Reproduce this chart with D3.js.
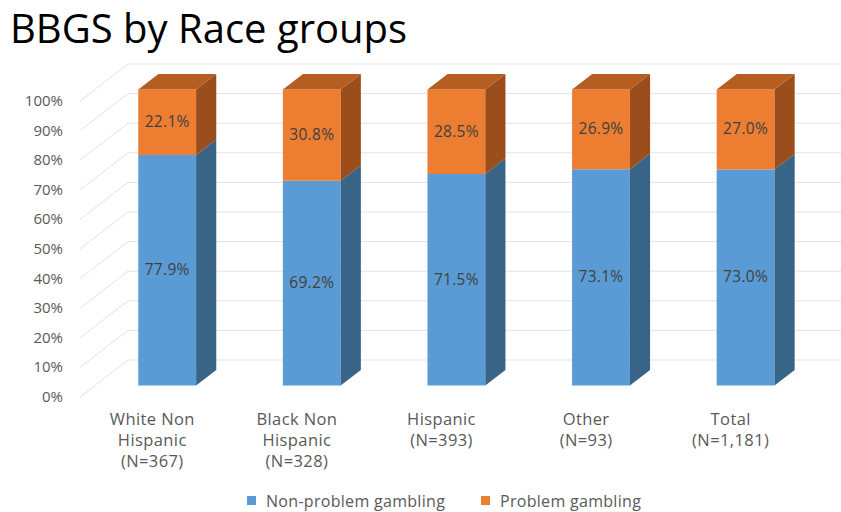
<!DOCTYPE html>
<html>
<head>
<meta charset="utf-8">
<script src="https://cdn.jsdelivr.net/npm/d3@7"></script>
<style>
  body { margin: 0; background: #fff; }
  svg { display: block; font-family: "Open Sans", sans-serif; }
</style>
</head>
<body>
<svg id="chart" width="841" height="512"></svg>
<script>
// data
var categories = [
  ["White Non", "Hispanic", "(N=367)"],
  ["Black Non", "Hispanic", "(N=328)"],
  ["Hispanic", "(N=393)"],
  ["Other", "(N=93)"],
  ["Total", "(N=1,181)"]
];
var nonProblem = [77.9, 69.2, 71.5, 73.1, 73.0];
var problem = [22.1, 30.8, 28.5, 26.9, 27.0];
var seriesNames = ["Non-problem gambling", "Problem gambling"];
var yTicks = [0, 10, 20, 30, 40, 50, 60, 70, 80, 90, 100];

var svg = d3.select("#chart");

// front plane of the floor, depth goes back by (dx, dy)
var depthX = 48, depthY = -37;
var barFront = 0.31, barBack = 0.73;

var x = d3.scaleBand().domain(d3.range(categories.length))
    .range([80, 803]).paddingInner(0.6).paddingOuter(0.3);
var y = d3.scaleLinear().domain([0, 100]).range([397, 101]);

function pt(px, v, d) {
  return [px + d * depthX, y(v) + d * depthY];
}

// title
svg.append("text")
    .attr("x", 10).attr("y", 43)
    .attr("font-size", 40)
    .attr("fill", "#000")
    .text("BBGS by Race groups");

// gridlines: diagonal on the side wall + horizontal on the back wall
var grid = svg.append("g").attr("stroke", "#e3e3e3").attr("stroke-width", 1).attr("fill", "none");
yTicks.forEach(function (t) {
  var a = pt(80, t, 0), b = pt(80, t, 1);
  grid.append("path").attr("d", d3.line()([a, b, [841, b[1]]]));
});

// y axis labels
svg.append("g").selectAll("text")
    .data(yTicks).enter().append("text")
    .attr("x", 63).attr("y", function (d) { return y(d) + 5; })
    .attr("text-anchor", "end")
    .attr("font-size", 15)
    .attr("fill", "#595959")
    .text(function (d) { return d + "%"; });

// bars
var colors = [
  { front: "#5b9bd5", side: "#386487", top: "#4a80b2" },
  { front: "#ed7d31", side: "#9b4d1b", top: "#b65e22" }
];

var bars = svg.append("g");
categories.forEach(function (c, i) {
  var x0 = x(i), x1 = x(i) + x.bandwidth();
  var segs = [[0, nonProblem[i]], [nonProblem[i], nonProblem[i] + problem[i]]];
  segs.forEach(function (s, k) {
    var col = colors[k];
    // front
    var f = [pt(x0, s[0], barFront), pt(x1, s[0], barFront), pt(x1, s[1], barFront), pt(x0, s[1], barFront)];
    bars.append("path").attr("d", d3.line()(f) + "Z").attr("fill", col.front);
    // right side
    var sd = [pt(x1, s[0], barFront), pt(x1, s[0], barBack), pt(x1, s[1], barBack), pt(x1, s[1], barFront)];
    bars.append("path").attr("d", d3.line()(sd) + "Z").attr("fill", col.side);
    if (k === segs.length - 1) {
      var tp = [pt(x0, s[1], barFront), pt(x1, s[1], barFront), pt(x1, s[1], barBack), pt(x0, s[1], barBack)];
      bars.append("path").attr("d", d3.line()(tp) + "Z").attr("fill", col.top);
    }
    // value label
    var mid = pt((x0 + x1) / 2, (s[0] + s[1]) / 2, barFront);
    bars.append("text")
        .attr("x", mid[0]).attr("y", mid[1] + 5)
        .attr("text-anchor", "middle")
        .attr("font-size", 15.5)
        .attr("letter-spacing", 0.3)
        .attr("fill", "#404040")
        .text((s[1] - s[0]).toFixed(1) + "%");
  });
});

// category labels
var cat = svg.append("g");
categories.forEach(function (lines, i) {
  var cx = x(i) + x.bandwidth() / 2;
  var t = cat.append("text")
      .attr("text-anchor", "middle")
      .attr("font-size", 16.5)
      .attr("letter-spacing", 0.4)
      .attr("fill", "#595959");
  lines.forEach(function (l, j) {
    t.append("tspan").attr("x", cx).attr("y", 425 + j * 21).text(l);
  });
});

// legend
var legend = svg.append("g");
var legendX = [247, 481];
seriesNames.forEach(function (n, k) {
  legend.append("rect")
      .attr("x", legendX[k]).attr("y", 496)
      .attr("width", 9).attr("height", 9)
      .attr("fill", colors[k].front);
  legend.append("text")
      .attr("x", legendX[k] + 19).attr("y", 507)
      .attr("font-size", 16)
      .attr("letter-spacing", 0.3)
      .attr("fill", "#595959")
      .text(n);
});
</script>
</body>
</html>
